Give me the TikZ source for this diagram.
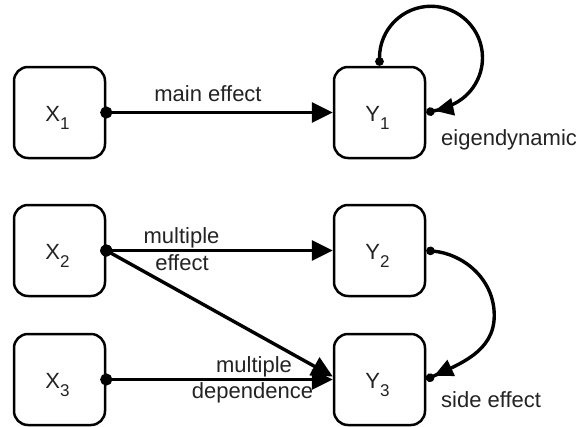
\documentclass[tikz,border=0pt]{standalone}
\usepackage{fontspec}
\setmainfont{Liberation Sans}
\usetikzlibrary{arrows.meta}
\definecolor{txt}{RGB}{35,35,35}
\tikzset{
  box/.style={draw, line width=2.5pt, rounded corners=14pt, minimum width=91pt, minimum height=91pt, inner sep=0pt},
  lbl/.style={text=txt, font=\fontsize{22}{26}\selectfont, inner sep=0pt, anchor=base},
  lblw/.style={lbl, anchor=base west},
  mainarr/.style={line width=3.4pt, {Circle[length=12pt,width=12pt]}-{Triangle[length=21pt,width=20pt]}, shorten <=-6pt},
  curvarr/.style={line width=3.4pt, {Circle[length=8.5pt,width=8.5pt]}-{Triangle[length=19pt,width=17pt]Circle[length=8.5pt,width=8.5pt]}},
}
\newcommand{\sublbl}[2]{#1\raisebox{-8pt}{\fontsize{17}{17}\selectfont #2}}
\begin{document}
\begin{tikzpicture}[x=1pt,y=1pt]
\useasboundingbox (0,0) rectangle (581,-426);
% boxes
\node[box] (X1) at (59.5,-112.5) {};
\node[box] (Y1) at (379.5,-112.5) {};
\node[box] (X2) at (59.5,-250.5) {};
\node[box] (Y2) at (379.5,-250.5) {};
\node[box] (X3) at (59.5,-379.5) {};
\node[box] (Y3) at (379.5,-379.5) {};
% box labels
\node[lbl] (x1t) at ([xshift=-2pt,yshift=-8.5pt]X1.center) {\sublbl{X}{1}};
\node[lbl] (y1t) at ([xshift=-2pt,yshift=-8.5pt]Y1.center) {\sublbl{Y}{1}};
\node[lbl] (x2t) at ([xshift=-2pt,yshift=-8.5pt]X2.center) {\sublbl{X}{2}};
\node[lbl] (y2t) at ([xshift=-2pt,yshift=-8.5pt]Y2.center) {\sublbl{Y}{2}};
\node[lbl] (x3t) at ([xshift=-2pt,yshift=-8.5pt]X3.center) {\sublbl{X}{3}};
\node[lbl] (y3t) at ([xshift=-2pt,yshift=-8.5pt]Y3.center) {\sublbl{Y}{3}};
% connectors
\draw[mainarr] (X1.east) -- (Y1.west);
\draw[mainarr] (X2.east) -- (Y2.west);
\draw[mainarr] (X2.east) -- ([yshift=3pt]Y3.west);
\draw[mainarr] (X3.east) -- (Y3.west);
\draw[curvarr] (Y1.north) -- ++(0,8) arc[start angle=180,end angle=-62,radius=51.5] to[out=-152,in=12] (Y1.east);
\draw[curvarr] (Y2.east) to[out=-5,in=90] ++(68,-65) to[out=-90,in=25] (Y3.east);
% edge labels
\node[lbl] (lme) at (208,-101) {main effect};
\node[lbl] (lmu1) at (181.5,-243) {multiple};
\node[lbl] (lmu2) at (182,-270) {effect};
\node[lbl] (lmd1) at (254,-372) {multiple};
\node[lbl] (lmd2) at (252.5,-398) {dependence};
\node[lblw] (leig) at (441,-145) {eigendynamic};
\node[lblw] (lse) at (441,-407) {side effect};
\end{tikzpicture}
\end{document}
